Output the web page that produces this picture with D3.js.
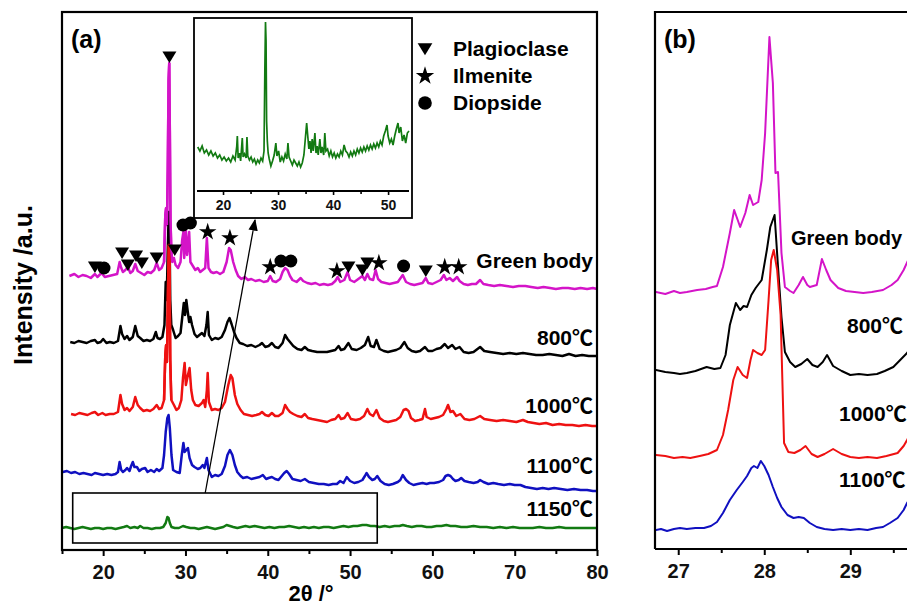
<!DOCTYPE html>
<html>
<head>
<meta charset="utf-8">
<script src="https://cdnjs.cloudflare.com/ajax/libs/d3/7.8.5/d3.min.js"></script>
<style>
body { margin: 0; background: #fff; }
svg { font-family: 'Liberation Sans', Arial, 'Noto Sans CJK SC', sans-serif; font-weight: bold; }
</style>
</head>
<body>
<svg id="chart1" width="907" height="607"></svg>
<script>
'use strict';

// ---- data (2theta, intensity a.u., stacked) ----
var greenBody = [[15.9,274],[16.5,276],[17.0,273],[17.5,275],[18.0,274],[18.5,272],[19.0,276],[19.3,273],[19.8,277],[20.2,273],[20.7,274],[21.2,275],[21.7,276],[22.0,288],[22.2,282],[22.4,278],[22.7,280],[23.0,283],[23.3,277],[23.6,279],[23.9,286],[24.2,279],[24.6,277],[25.0,275],[25.4,278],[25.8,277],[26.2,280],[26.5,287],[26.8,280],[27.1,282],[27.4,288],[27.55,335],[27.65,342],[27.75,325],[27.85,380],[27.95,470],[28.03,487],[28.1,420],[28.18,330],[28.28,300],[28.4,288],[28.6,292],[28.8,285],[29.1,282],[29.4,288],[29.6,310],[29.75,318],[29.85,292],[30.05,320],[30.2,295],[30.45,318],[30.6,288],[30.9,284],[31.2,280],[31.5,282],[31.8,278],[32.1,280],[32.4,282],[32.6,312],[32.8,282],[33.1,278],[33.4,277],[33.8,278],[34.2,276],[34.6,278],[35.0,288],[35.3,302],[35.5,300],[35.8,288],[36.1,280],[36.4,274],[36.8,271],[37.2,273],[37.6,270],[38.0,271],[38.5,269],[39.0,270],[39.5,268],[40.0,269],[40.3,274],[40.6,269],[41.0,268],[41.5,271],[41.8,278],[42.1,282],[42.4,280],[42.7,274],[43.0,270],[43.5,268],[44.0,272],[44.3,269],[44.8,267],[45.3,266],[45.8,267],[46.3,265],[46.8,266],[47.3,265],[47.8,266],[48.2,269],[48.5,273],[48.8,268],[49.3,270],[49.7,278],[50.0,270],[50.5,268],[51.0,271],[51.5,274],[51.8,270],[52.1,276],[52.4,271],[52.8,270],[53.1,280],[53.4,271],[53.8,268],[54.3,267],[54.8,266],[55.3,267],[55.8,268],[56.4,275],[56.8,268],[57.3,266],[57.8,265],[58.3,266],[58.8,267],[59.2,272],[59.5,267],[60.0,266],[60.5,268],[61.0,270],[61.4,275],[61.7,270],[62.1,272],[62.5,269],[63.0,273],[63.3,269],[63.8,266],[64.3,265],[64.8,266],[65.3,266],[65.8,270],[66.2,266],[66.8,265],[67.5,264],[68.2,265],[69.0,264],[69.8,263],[70.5,264],[71.3,264],[72.0,263],[72.8,262],[73.5,263],[74.3,262],[75.0,261],[75.8,262],[76.5,262],[77.3,261],[78.0,262],[78.8,261],[79.5,262],[80.0,261]];

var t800 = [[16.0,208],[16.5,207],[17.0,209],[17.5,208],[18.0,207],[18.5,209],[19.0,210],[19.3,207],[19.7,208],[20.0,211],[20.4,207],[20.8,208],[21.3,207],[21.8,209],[22.1,224],[22.3,216],[22.6,211],[22.9,214],[23.2,210],[23.6,213],[23.9,224],[24.2,214],[24.5,212],[24.9,209],[25.3,210],[25.7,209],[26.1,211],[26.4,218],[26.6,212],[26.9,211],[27.2,213],[27.45,225],[27.6,268],[27.72,250],[27.85,300],[27.97,338],[28.05,330],[28.15,250],[28.28,225],[28.5,220],[28.8,212],[29.1,214],[29.4,217],[29.6,232],[29.8,247],[29.95,235],[30.1,250],[30.25,240],[30.45,228],[30.6,233],[30.8,225],[31.1,216],[31.4,213],[31.7,215],[32.0,217],[32.3,214],[32.55,225],[32.7,238],[32.85,215],[33.2,210],[33.6,212],[34.0,211],[34.4,213],[34.8,220],[35.1,228],[35.35,232],[35.6,226],[35.9,218],[36.2,212],[36.6,207],[37.0,206],[37.5,204],[38.0,205],[38.5,203],[39.0,205],[39.3,207],[39.7,203],[40.1,204],[40.5,207],[40.9,203],[41.3,202],[41.8,207],[42.1,215],[42.4,211],[42.7,208],[43.1,204],[43.6,201],[44.1,200],[44.5,203],[44.9,200],[45.4,199],[46.0,198],[46.6,198],[47.2,198],[47.7,199],[48.2,200],[48.6,204],[48.9,200],[49.3,201],[49.8,207],[50.2,201],[50.8,200],[51.3,202],[51.8,205],[52.2,213],[52.5,204],[52.9,203],[53.2,210],[53.6,201],[54.1,199],[54.6,198],[55.1,199],[55.6,200],[56.1,202],[56.6,208],[57.0,202],[57.5,199],[58.0,198],[58.5,199],[59.1,203],[59.5,199],[60.0,199],[60.5,201],[61.0,202],[61.5,206],[61.9,202],[62.4,205],[62.8,201],[63.3,203],[63.8,198],[64.4,197],[65.0,198],[65.8,203],[66.3,199],[67.0,198],[67.8,197],[68.6,196],[69.4,197],[70.2,196],[71.0,197],[71.8,196],[72.6,195],[73.4,195],[74.2,196],[75.0,195],[75.8,194],[76.6,196],[77.4,194],[78.2,195],[79.0,194],[80.0,194]];

var t1000 = [[16.1,136],[16.6,135],[17.1,137],[17.6,136],[18.1,135],[18.6,137],[19.0,138],[19.4,135],[19.9,137],[20.3,135],[20.8,136],[21.3,136],[21.8,138],[22.1,155],[22.3,146],[22.6,140],[22.9,142],[23.2,139],[23.6,143],[23.9,153],[24.2,145],[24.5,142],[24.9,139],[25.3,140],[25.7,139],[26.1,141],[26.5,145],[26.8,141],[27.1,142],[27.4,150],[27.55,195],[27.65,205],[27.75,188],[27.88,260],[27.98,305],[28.06,290],[28.15,190],[28.28,150],[28.6,145],[28.9,140],[29.2,142],[29.5,150],[29.7,172],[29.9,187],[30.05,165],[30.3,175],[30.5,182],[30.7,160],[30.9,150],[31.2,145],[31.6,144],[32.0,147],[32.2,150],[32.4,143],[32.6,160],[32.7,177],[32.85,148],[33.2,140],[33.6,141],[34.0,140],[34.4,142],[34.8,148],[35.2,165],[35.5,175],[35.7,172],[36.0,155],[36.3,146],[36.7,140],[37.1,136],[37.6,135],[38.1,134],[38.6,135],[39.0,136],[39.3,138],[39.7,135],[40.1,134],[40.5,137],[40.9,134],[41.3,134],[41.8,137],[42.1,145],[42.4,141],[42.7,138],[43.1,136],[43.6,134],[44.1,133],[44.5,136],[44.9,132],[45.4,131],[46.0,130],[46.6,129],[47.2,128],[47.7,130],[48.2,131],[48.6,135],[48.9,131],[49.3,132],[49.7,137],[50.1,131],[50.7,130],[51.2,131],[51.7,134],[52.1,141],[52.4,136],[52.8,134],[53.2,140],[53.6,132],[54.1,129],[54.6,128],[55.1,129],[55.6,130],[56.1,133],[56.5,140],[56.8,141],[57.1,139],[57.4,132],[57.9,129],[58.4,130],[58.8,131],[59.1,141],[59.3,133],[59.8,131],[60.3,132],[60.8,133],[61.3,135],[61.7,141],[61.9,145],[62.2,138],[62.5,139],[62.9,134],[63.4,136],[63.9,131],[64.5,130],[65.1,131],[65.8,134],[66.3,131],[67.0,130],[67.8,129],[68.6,130],[69.4,129],[70.2,128],[71.0,130],[71.6,128],[72.3,127],[73.0,126],[73.8,127],[74.6,125],[75.4,126],[76.2,125],[77.0,125],[77.8,124],[78.6,125],[79.4,124],[80.0,124]];

var t1100 = [[15.1,78],[15.6,79],[16.1,77],[16.6,78],[17.1,76],[17.6,77],[18.1,76],[18.6,75],[19.0,77],[19.5,76],[20.0,75],[20.5,76],[21.0,75],[21.5,76],[21.8,78],[22.0,88],[22.2,80],[22.4,78],[22.7,80],[22.9,82],[23.2,79],[23.4,84],[23.6,88],[23.8,83],[24.1,83],[24.4,79],[24.7,81],[25.1,82],[25.4,78],[25.8,80],[26.2,78],[26.5,81],[26.8,79],[27.2,82],[27.4,95],[27.6,118],[27.8,132],[27.95,135],[28.1,122],[28.3,95],[28.5,80],[28.9,78],[29.3,77],[29.55,95],[29.75,107],[29.9,98],[30.1,100],[30.3,102],[30.5,92],[30.8,85],[31.1,83],[31.5,81],[31.8,82],[32.1,85],[32.3,82],[32.6,92],[32.8,80],[33.2,73],[33.6,75],[34.0,74],[34.4,76],[34.8,84],[35.1,95],[35.4,100],[35.7,95],[36.0,85],[36.3,78],[36.7,74],[37.0,72],[37.5,73],[38.0,71],[38.5,72],[39.0,73],[39.4,75],[39.8,71],[40.1,72],[40.5,73],[40.9,71],[41.3,70],[41.7,74],[42.0,77],[42.3,79],[42.6,76],[43.0,71],[43.5,70],[44.0,69],[44.5,71],[45.0,68],[45.6,67],[46.2,66],[46.8,66],[47.4,65],[47.9,66],[48.4,66],[48.8,69],[49.2,67],[49.6,73],[50.0,69],[50.5,67],[51.0,68],[51.5,70],[51.8,74],[52.0,77],[52.3,73],[52.7,70],[53.0,71],[53.3,74],[53.7,69],[54.2,66],[54.7,65],[55.2,66],[55.8,68],[56.1,70],[56.4,75],[56.8,70],[57.2,67],[57.7,65],[58.2,66],[58.8,67],[59.3,66],[59.7,67],[60.2,67],[60.8,68],[61.3,70],[61.6,74],[61.9,75],[62.2,74],[62.5,71],[62.8,69],[63.2,70],[63.5,72],[63.9,69],[64.4,68],[65.0,67],[65.5,68],[65.8,70],[66.2,68],[66.8,66],[67.4,67],[68.0,66],[68.7,65],[69.4,66],[70.0,65],[70.7,65],[71.3,63],[72.0,62],[72.7,61],[73.4,62],[74.1,61],[74.8,62],[75.6,61],[76.4,60],[77.2,61],[78.0,60],[78.8,60],[79.5,59],[80.0,59]];

var t1150 = [[15.0,22],[15.5,23],[16.0,22],[16.5,21],[17.0,22],[17.5,23],[18.0,22],[18.5,21],[19.0,22],[19.5,22],[20.0,21],[20.5,22],[21.0,22],[21.5,21],[22.0,22],[22.5,23],[22.9,24],[23.3,22],[23.8,23],[24.2,22],[24.5,24],[24.9,22],[25.4,22],[25.9,21],[26.4,22],[26.9,22],[27.3,23],[27.6,27],[27.8,33],[27.95,32],[28.1,27],[28.3,23],[28.7,22],[29.2,22],[29.7,24],[30.1,23],[30.6,22],[31.1,22],[31.6,21],[32.1,22],[32.6,23],[33.1,22],[33.6,21],[34.1,22],[34.6,23],[35.0,25],[35.4,24],[35.8,23],[36.3,22],[36.8,23],[37.3,24],[37.8,23],[38.4,24],[39.0,23],[39.6,22],[40.2,23],[40.8,22],[41.4,23],[42.0,23],[42.6,24],[43.2,23],[43.8,22],[44.4,23],[45.0,22],[45.6,23],[46.2,22],[46.8,23],[47.4,23],[48.0,22],[48.6,23],[49.2,24],[49.8,23],[50.4,24],[50.9,24],[51.5,25],[52.0,25],[52.5,24],[53.0,24],[53.6,23],[54.2,24],[54.8,23],[55.4,24],[56.0,24],[56.4,25],[56.9,24],[57.5,23],[58.1,24],[58.7,24],[59.3,23],[59.9,23],[60.5,24],[61.1,24],[61.7,25],[62.2,24],[62.8,24],[63.5,23],[64.2,23],[65.0,24],[65.8,23],[66.6,23],[67.4,22],[68.2,23],[69.0,22],[69.8,23],[70.6,22],[71.4,22],[72.2,22],[73.0,23],[73.8,22],[74.6,22],[75.4,23],[76.2,22],[77.0,22],[77.8,22],[78.6,22],[79.4,22],[80.0,22]];

// inset: 1150 sample, rescaled
var inset1150 = [[15.4,44],[15.8,40],[16.2,45],[16.6,38],[17.0,41],[17.4,36],[17.8,40],[18.2,35],[18.6,38],[19.0,33],[19.4,36],[19.8,31],[20.2,34],[20.6,30],[21.0,33],[21.4,29],[21.8,35],[22.2,31],[22.5,45],[22.6,55],[22.75,33],[23.0,38],[23.2,30],[23.5,53],[23.65,34],[23.9,37],[24.2,33],[24.35,54],[24.5,35],[24.8,31],[25.1,34],[25.4,29],[25.7,32],[26.0,27],[26.3,31],[26.6,28],[26.9,33],[27.2,30],[27.45,40],[27.6,120],[27.72,169],[27.82,150],[27.92,70],[28.05,50],[28.2,38],[28.4,32],[28.7,25],[29.0,30],[29.3,36],[29.6,48],[29.8,35],[30.1,40],[30.4,29],[30.7,34],[31.0,30],[31.3,37],[31.6,32],[31.8,48],[32.0,34],[32.3,30],[32.6,26],[32.9,31],[33.2,28],[33.5,25],[33.8,29],[34.1,24],[34.4,28],[34.7,36],[35.0,55],[35.2,68],[35.4,55],[35.6,42],[35.8,50],[36.0,38],[36.2,52],[36.4,40],[36.7,58],[36.9,38],[37.1,45],[37.3,36],[37.6,52],[37.8,38],[38.0,44],[38.3,36],[38.5,58],[38.7,40],[39.0,42],[39.3,35],[39.6,40],[39.9,34],[40.2,38],[40.5,33],[40.8,37],[41.1,34],[41.4,40],[41.7,36],[42.0,46],[42.3,40],[42.6,38],[42.9,34],[43.2,39],[43.5,35],[43.8,40],[44.1,36],[44.4,42],[44.7,38],[45.0,43],[45.3,39],[45.6,44],[45.9,40],[46.2,45],[46.5,41],[46.8,46],[47.1,42],[47.4,47],[47.7,43],[48.0,48],[48.3,44],[48.6,50],[48.9,46],[49.2,55],[49.5,60],[49.8,66],[50.0,55],[50.3,48],[50.6,52],[50.9,46],[51.2,55],[51.5,62],[51.8,68],[52.0,58],[52.3,64],[52.6,50],[52.9,56],[53.2,48],[53.5,58],[53.8,60]];

// panel (b): zoom on the 28 degree peak
var bGreenBody = [[26.74,258],[26.85,256],[26.95,259],[27.02,257],[27.1,258],[27.22,260],[27.32,261],[27.4,263],[27.45,264],[27.52,283],[27.6,317],[27.65,340],[27.72,323],[27.78,337],[27.83,355],[27.87,345],[27.93,348],[27.97,370],[28.01,417],[28.06,513],[28.1,467],[28.13,377],[28.16,378],[28.2,297],[28.24,263],[28.3,259],[28.34,257],[28.4,265],[28.45,273],[28.5,265],[28.53,263],[28.61,265],[28.67,291],[28.72,280],[28.77,270],[28.86,262],[28.95,259],[29.05,258],[29.15,257],[29.25,258],[29.38,260],[29.48,265],[29.55,270],[29.62,280],[29.7,295],[29.8,315]];
var b800 = [[26.74,180],[26.85,178],[26.95,177],[27.02,176],[27.1,177],[27.2,179],[27.33,183],[27.42,181],[27.49,182],[27.55,195],[27.6,225],[27.67,247],[27.72,240],[27.76,244],[27.8,243],[27.85,255],[27.9,262],[27.97,270],[28.03,300],[28.07,323],[28.12,335],[28.16,283],[28.2,233],[28.24,198],[28.3,188],[28.36,183],[28.43,186],[28.5,191],[28.56,185],[28.62,183],[28.68,188],[28.73,195],[28.8,184],[28.9,179],[29.0,175],[29.1,176],[29.2,175],[29.31,176],[29.4,179],[29.5,183],[29.58,190],[29.66,197],[29.75,210],[29.85,225]];
var b1000 = [[26.74,95],[26.85,94],[26.95,92],[27.05,93],[27.14,92],[27.25,94],[27.35,96],[27.45,100],[27.52,115],[27.58,140],[27.64,170],[27.69,183],[27.75,175],[27.8,172],[27.84,190],[27.87,200],[27.92,197],[27.97,195],[28.01,200],[28.05,250],[28.08,290],[28.11,300],[28.15,280],[28.19,235],[28.23,107],[28.28,98],[28.35,97],[28.42,100],[28.48,104],[28.55,96],[28.62,93],[28.7,96],[28.8,101],[28.9,96],[29.0,93],[29.1,92],[29.2,93],[29.31,92],[29.42,94],[29.55,97],[29.62,104],[29.66,110],[29.75,125],[29.85,140]];
var b1100 = [[26.74,20],[26.8,21],[26.87,19],[26.95,21],[27.02,22],[27.1,21],[27.2,22],[27.3,22],[27.38,24],[27.45,28],[27.52,37],[27.6,50],[27.68,60],[27.75,68],[27.8,74],[27.85,82],[27.88,84],[27.92,82],[27.96,89],[28.0,84],[28.05,75],[28.1,63],[28.15,52],[28.2,43],[28.27,35],[28.34,32],[28.4,33],[28.46,32],[28.53,27],[28.61,23],[28.7,21],[28.8,20],[28.9,21],[29.0,20],[29.1,21],[29.2,20],[29.3,22],[29.38,23],[29.46,27],[29.55,32],[29.62,40],[29.66,47],[29.75,60],[29.85,75]];

// phase markers on the green body pattern: [2theta, phase, level]
var phaseMarks = [[19.0,'P',283],[20.1,'D',282],[22.3,'P',297],[23.0,'P',285],[24.0,'P',294],[24.7,'P',287],[26.5,'P',292],[28.05,'P',493],[28.7,'P',300],[29.7,'D',325],[30.6,'D',327],[32.7,'I',318],[35.4,'I',312],[40.3,'I',283],[41.6,'D',289],[42.8,'D',289],[48.4,'I',279],[49.8,'P',283],[51.5,'P',280],[52.1,'P',287],[53.5,'I',287],[56.5,'D',284],[59.2,'P',279],[61.5,'I',283],[63.2,'I',283]];

var phaseNames = [['P','Plagioclase'],['I','Ilmenite'],['D','Diopside']];
var sampleNames = ['Green body', '800℃', '1000℃', '1100℃', '1150℃'];
var sampleColors = ['#d414c8', '#000000', '#ee1111', '#1010c0', '#127a12'];
var ticksA = [20, 30, 40, 50, 60, 70, 80];
var minorA = [15, 25, 35, 45, 55, 65, 75];
var ticksIn = [20, 30, 40, 50];
var minorIn = [25, 35, 45];
var ticksB = [27, 28, 29];
var minorB = [27.5, 28.5, 29.5];

// ---- drawing ----
var svg = d3.select('#chart1');

var xA = d3.scaleLinear().domain([15, 80]).range([62, 597]);
var yA = d3.scaleLinear().domain([0, 538]).range([550, 12]);
var xB = d3.scaleLinear().domain([26.73, 30.74]).range([655, 1000]);
var xIn = d3.scaleLinear().domain([15.27, 53.8]).range([197, 409]);
var yIn = d3.scaleLinear().domain([0, 171]).range([191, 20]);

var lineA = d3.line().x(function(d) { return xA(d[0]); }).y(function(d) { return yA(d[1]); });
var lineB = d3.line().x(function(d) { return xB(d[0]); }).y(function(d) { return yA(d[1]); });
var lineIn = d3.line().x(function(d) { return xIn(d[0]); }).y(function(d) { return yIn(d[1]); });

var seriesA = [greenBody, t800, t1000, t1100, t1150];
var seriesB = [bGreenBody, b800, b1000, b1100];

var tickStyle = function(ax, size, width) {
	ax.select('.domain').remove();
	ax.selectAll('line').style('stroke-width', width);
	ax.selectAll('text')
		.style('font-size', size + 'px')
		.style('font-family', "'Liberation Sans', Arial, sans-serif")
		.style('font-weight', 'bold')
		.style('fill', '#111');
};

// panel (a) curves
var gA = svg.append('g');
seriesA.forEach(function(s, i) {
	gA.append('path')
		.datum(s)
		.attr('d', lineA)
		.style('fill', 'none')
		.style('stroke', sampleColors[i])
		.style('stroke-width', 2.5)
		.style('stroke-linejoin', 'round');
});
// the 1000 and green body peaks sit over the black one in the original
[[t1000, 2], [greenBody, 0]].forEach(function(p) {
	gA.append('path')
		.datum(p[0].filter(function(d) { return d[0] > 27.3 && d[0] < 28.5; }))
		.attr('d', lineA)
		.style('fill', 'none')
		.style('stroke', sampleColors[p[1]])
		.style('stroke-width', 2.5);
});

// phase markers
var tri = 'M-7,-5.5L7,-5.5L0,6Z';
var star = d3.symbol().type(d3.symbolStar).size(95)();
var drawMark = function(g, type, x, y, scale) {
	scale = scale || 1;
	if (type === 'D') {
		g.append('circle').attr('cx', x).attr('cy', y).attr('r', 6.5 * scale).style('fill', '#000');
	} else {
		g.append('path')
			.attr('d', type === 'P' ? tri : star)
			.attr('transform', 'translate(' + x + ',' + y + ') scale(' + scale + ')')
			.style('fill', '#000');
	}
};
phaseMarks.forEach(function(m) {
	drawMark(gA, m[1], xA(m[0]), yA(m[2]));
});

// frame (a)
svg.append('rect')
	.attr('x', 62).attr('y', 12).attr('width', 535).attr('height', 538)
	.style('fill', 'none').style('stroke', '#000').style('stroke-width', 2.2);

// x axis (a)
var axA = svg.append('g').attr('transform', 'translate(0,550)')
	.call(d3.axisBottom(xA).tickValues(ticksA).tickSize(6).tickPadding(9).tickFormat(d3.format('d')));
var axAm = svg.append('g').attr('transform', 'translate(0,550)')
	.call(d3.axisBottom(xA).tickValues(minorA).tickSize(4).tickFormat(''));
tickStyle(axA, 20, 2);
tickStyle(axAm, 20, 2);

// zoom box + arrow
svg.append('rect')
	.attr('x', xA(16.3)).attr('y', yA(57))
	.attr('width', xA(53.3) - xA(16.3)).attr('height', yA(7) - yA(57))
	.style('fill', 'none').style('stroke', '#000').style('stroke-width', 1.6);

svg.append('defs').append('marker')
	.attr('id', 'arrow').attr('viewBox', '0 0 10 10')
	.attr('refX', 9).attr('refY', 5)
	.attr('markerWidth', 9).attr('markerHeight', 9)
	.attr('orient', 'auto')
	.append('path').attr('d', 'M0,1L10,5L0,9Z').style('fill', '#000');
svg.append('line')
	.attr('x1', xA(32.4)).attr('y1', yA(57))
	.attr('x2', xA(38.45)).attr('y2', yA(330))
	.style('stroke', '#000').style('stroke-width', 1.3)
	.attr('marker-end', 'url(#arrow)');

// inset
svg.append('rect')
	.attr('x', 194).attr('y', 18).attr('width', 218).attr('height', 200)
	.style('fill', '#fff').style('stroke', '#000').style('stroke-width', 1.8);
svg.append('path')
	.datum(inset1150)
	.attr('d', lineIn)
	.style('fill', 'none')
	.style('stroke', sampleColors[4])
	.style('stroke-width', 1.7);
svg.append('line')
	.attr('x1', xIn(15.27)).attr('x2', xIn(53.8)).attr('y1', 191).attr('y2', 191)
	.style('stroke', '#000').style('stroke-width', 1.8);
var axIn = svg.append('g').attr('transform', 'translate(0,191)')
	.call(d3.axisBottom(xIn).tickValues(ticksIn).tickSize(4).tickPadding(5).tickFormat(d3.format('d')));
var axInm = svg.append('g').attr('transform', 'translate(0,191)')
	.call(d3.axisBottom(xIn).tickValues(minorIn).tickSize(3).tickFormat(''));
tickStyle(axIn, 14, 1.6);
tickStyle(axInm, 14, 1.6);

// legend
phaseNames.forEach(function(p, i) {
	var y = 49 + i * 27;
	drawMark(svg, p[0], 425, y, 1.05);
	svg.append('text')
		.attr('x', 453).attr('y', y + 7)
		.style('font-size', '21px')
		.text(p[1]);
});

// sample labels (a)
var labelYA = [268, 345, 413, 473, 516];
sampleNames.forEach(function(n, i) {
	svg.append('text')
		.attr('x', 593).attr('y', labelYA[i])
		.attr('text-anchor', 'end')
		.style('font-size', '21px')
		.text(n);
});

svg.append('text').attr('x', 71).attr('y', 48).style('font-size', '25px').text('(a)');

svg.append('text')
	.attr('transform', 'translate(32,285) rotate(-90)')
	.attr('text-anchor', 'middle')
	.style('font-size', '25px')
	.text('Intensity /a.u.');

svg.append('text')
	.attr('x', 311).attr('y', 601)
	.attr('text-anchor', 'middle')
	.style('font-size', '22px')
	.text('2θ /°');

// panel (b)
svg.append('clipPath').attr('id', 'clipB')
	.append('rect').attr('x', 656).attr('y', 12).attr('width', 400).attr('height', 537);
var gB = svg.append('g').attr('clip-path', 'url(#clipB)');
seriesB.forEach(function(s, i) {
	gB.append('path')
		.datum(s)
		.attr('d', lineB)
		.style('fill', 'none')
		.style('stroke', sampleColors[i])
		.style('stroke-width', 2)
		.style('stroke-linejoin', 'round');
});

svg.append('path')
	.attr('d', 'M655,549V12H1000')
	.style('fill', 'none').style('stroke', '#000').style('stroke-width', 2.2);
svg.append('line')
	.attr('x1', 655).attr('x2', 1000).attr('y1', 549).attr('y2', 549)
	.style('stroke', '#000').style('stroke-width', 2.2);

var axB = svg.append('g').attr('transform', 'translate(0,549)')
	.call(d3.axisBottom(xB).tickValues(ticksB).tickSize(6).tickPadding(9).tickFormat(d3.format('d')));
var axBm = svg.append('g').attr('transform', 'translate(0,549)')
	.call(d3.axisBottom(xB).tickValues(minorB).tickSize(4).tickFormat(''));
tickStyle(axB, 20, 2);
tickStyle(axBm, 20, 2);

svg.append('text').attr('x', 664).attr('y', 48).style('font-size', '25px').text('(b)');

var labelB = [[791, 245, 20], [847, 333, 21], [839, 421, 21], [839, 487, 21]];
labelB.forEach(function(p, i) {
	svg.append('text')
		.attr('x', p[0]).attr('y', p[1])
		.style('font-size', p[2] + 'px')
		.text(sampleNames[i]);
});
</script>
</body>
</html>
